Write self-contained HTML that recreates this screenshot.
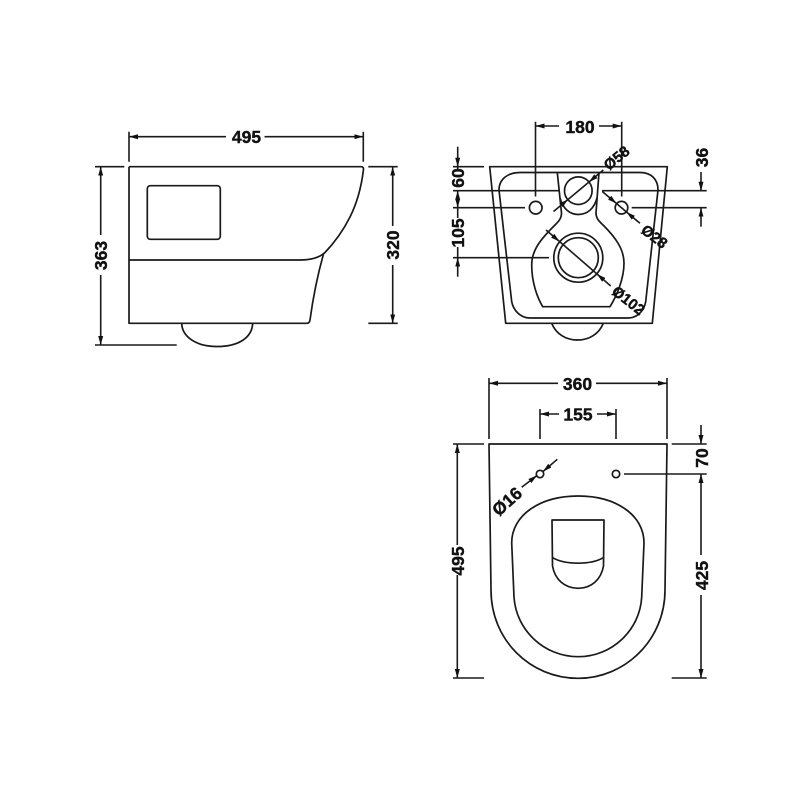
<!DOCTYPE html>
<html>
<head>
<meta charset="utf-8">
<style>
html,body{margin:0;padding:0;background:#fff;}
svg{display:block;filter:blur(0.3px);}
text{font-family:"Liberation Sans",sans-serif;font-weight:bold;fill:#111;stroke:#111;stroke-width:0.4;text-anchor:middle;dominant-baseline:central;}
.d{fill:none;stroke:#1a1a1a;stroke-width:1.6;}
.s{fill:none;stroke:#1a1a1a;stroke-width:1.7;stroke-linejoin:round;}
.t{font-size:17.5px;}
.u{font-size:15px;}
</style>
</head>
<body>
<svg width="800" height="800" viewBox="0 0 800 800" xmlns="http://www.w3.org/2000/svg">
<defs>
<marker id="a" markerUnits="userSpaceOnUse" markerWidth="10" markerHeight="6" refX="9" refY="3" orient="auto-start-reverse">
<path d="M0 0.5L9 3L0 5.5Z" fill="#111"/>
</marker>
</defs>

<!-- side view -->
<path class="s" d="M129 166.7H361Q364 166.7 363.4 170C361 190 356 205 350 217C344 229 335 242 325 252.5C319 258 311 260 300 260H129"/>
<path class="s" d="M129 166.7V323.3H307Q309.5 323.3 310 320C313 298 317 277 323.5 254"/>
<rect class="s" x="147.3" y="185.7" width="73" height="53.6" rx="3"/>
<path class="s" d="M181.7 323.3C182 336 195 346 215 346.5C238 347 252 338 252.7 323.3"/>

<path class="d" d="M129 131.7V161.7M363.3 131.7V161.7"/>
<path class="d" marker-start="url(#a)" d="M129 136.7H226"/>
<path class="d" marker-end="url(#a)" d="M264.5 136.7H363.3"/>
<text class="t" x="246.5" y="137">495</text>

<path class="d" d="M95 166.7H124.3M95 345H176.7"/>
<path class="d" marker-start="url(#a)" d="M100.7 166.7V235"/>
<path class="d" marker-end="url(#a)" d="M100.7 275V345"/>
<text class="t" transform="translate(101 255.5) rotate(-90)">363</text>

<path class="d" d="M368.3 166.7H397.7M368.3 323.3H397.7"/>
<path class="d" marker-start="url(#a)" d="M392.7 166.7V226"/>
<path class="d" marker-end="url(#a)" d="M392.7 265V323.3"/>
<text class="t" transform="translate(393 245) rotate(-90)">320</text>

<!-- front view -->
<path class="s" d="M489.7 166.7H667.3L652.3 323.3H505.7Z"/>
<path class="s" d="M499 190C499 179 508 172.5 520 172.5H640C651 172.5 658 179 658 190L645.7 301.7C644 311 637 318 628 318H530C521 318 513.5 311 511.7 301.7Z"/>
<path class="s" d="M557.3 172.5L561.5 213C561.5 219 558 222 554 226C541 239 531.7 250 531.7 265C531.7 282 537 297 542.7 306.7H610C616 297 624 280 624 263C624 249 615 237 604 226C600 222 596 219 596 213L599 172.5"/>
<path class="s" d="M560 198C563 209 570 214.5 578.3 214.5C587 214.5 594 209 597 198"/>
<circle class="s" cx="578.3" cy="190.7" r="13.8"/>
<circle class="s" cx="578.3" cy="257.7" r="24.5"/>
<circle class="s" cx="578.3" cy="257.7" r="20"/>
<circle class="s" cx="535.7" cy="207.7" r="6.3"/>
<circle class="s" cx="621.5" cy="207.7" r="6.3"/>
<path class="s" d="M551.7 323.3C556 334 566 340 577.5 340C589 340 599 334 603.3 323.3"/>

<path class="d" d="M535.5 121.7V196.5M621.7 121.7V196.5"/>
<path class="d" marker-start="url(#a)" d="M535.5 126H559"/>
<path class="d" marker-end="url(#a)" d="M599 126H621.7"/>
<text class="t" x="580" y="127">180</text>

<path class="d" d="M453 166.7H484M453 190.7H560M453 207.7H525M453 257.7H549"/>
<path class="d" marker-end="url(#a)" d="M457.7 146.7V166.7"/>
<path class="d" d="M457.7 166.7V169"/>
<text class="t" transform="translate(458 178) rotate(-90)">60</text>
<path class="d" marker-start="url(#a)" marker-end="url(#a)" d="M457.7 190.7V207.7"/>
<path class="d" d="M457.7 207.7V218M457.7 247V257.7"/>
<text class="t" transform="translate(458 233) rotate(-90)">105</text>
<path class="d" marker-start="url(#a)" d="M457.7 257.7V276.7"/>

<path class="d" d="M602 190.7H706.7M631.7 207.7H706.7"/>
<path class="d" marker-end="url(#a)" d="M701 172V190.7"/>
<path class="d" marker-start="url(#a)" d="M701 207.7V226.7"/>
<text class="t" transform="translate(702 157.5) rotate(-90)">36</text>

<path class="d" marker-end="url(#a)" d="M553.5 211.5L568 199.5"/>
<path class="d" d="M568 199.5L589 182"/>
<path class="d" marker-start="url(#a)" d="M589 182L603.3 170"/>
<text class="u" transform="translate(617 158.5) rotate(-40)">Ø58</text>

<path class="d" marker-end="url(#a)" d="M602.3 191.5L616.5 203.5"/>
<path class="d" d="M616.5 203.5L626.5 212"/>
<path class="d" marker-start="url(#a)" d="M626.5 212L640 223.3"/>
<text class="u" transform="translate(654 237) rotate(38)">Ø28</text>

<path class="d" marker-end="url(#a)" d="M546 230L559.5 241.5"/>
<path class="d" d="M559.5 241.5L597 274"/>
<path class="d" marker-start="url(#a)" d="M597 274L610.7 286"/>
<text class="u" transform="translate(628 301) rotate(38)">Ø102</text>

<!-- plan view -->
<path class="s" d="M489 444H667L665 590C665 640 625 678.3 578.3 678.3C530 678.3 491 640 491 590Z"/>
<path class="s" d="M511.7 543C511.7 515 540 496 578.3 496C616 496 644 515 644 543L641.7 597C640 630 612 656.7 578.3 656.7C544 656.7 516 630 514 597Z"/>
<path class="s" d="M552 520H604L603.5 566C601 580 591 588.3 578.3 588.3C565 588.3 555 580 552.5 566Z"/>
<path class="s" d="M552.7 557.7C565 565 591 565 603.3 557.7"/>
<circle class="s" cx="540" cy="474" r="3.7"/>
<circle class="s" cx="616" cy="474" r="3.7"/>

<path class="d" d="M489 378V439M667 378V439"/>
<path class="d" marker-start="url(#a)" d="M489 383.3H558"/>
<path class="d" marker-end="url(#a)" d="M596 383.3H667"/>
<text class="t" x="577.5" y="384">360</text>

<path class="d" d="M540 409V439M616 409V439"/>
<path class="d" marker-start="url(#a)" d="M540 414H559"/>
<path class="d" marker-end="url(#a)" d="M597 414H616"/>
<text class="t" x="578" y="414.5">155</text>

<path class="d" d="M453 444H484M453 678H484"/>
<path class="d" marker-start="url(#a)" d="M457.3 444V545"/>
<path class="d" marker-end="url(#a)" d="M457.3 575V678"/>
<text class="t" transform="translate(458 561) rotate(-90)">495</text>

<path class="d" d="M671.7 444H706.7M624 474H706.7M671.7 678H706.7"/>
<path class="d" marker-end="url(#a)" d="M701 425V444"/>
<text class="t" transform="translate(702 458) rotate(-90)">70</text>
<path class="d" marker-start="url(#a)" d="M701 474V555"/>
<path class="d" marker-end="url(#a)" d="M701 595V678"/>
<text class="t" transform="translate(702 575.5) rotate(-90)">425</text>

<path class="d" marker-end="url(#a)" d="M521.7 487.3L537 475.5"/>
<path class="d" marker-start="url(#a)" d="M543 471.5L557.3 459.3"/>
<text class="t" transform="translate(507 501.5) rotate(-42)">Ø16</text>
</svg>
</body>
</html>
